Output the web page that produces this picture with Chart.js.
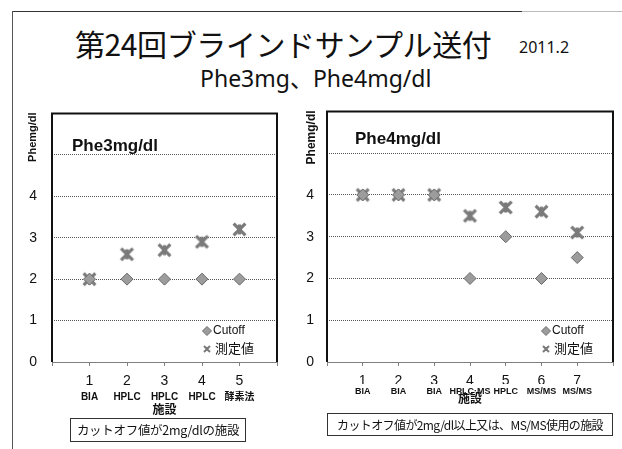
<!DOCTYPE html>
<html>
<head>
<meta charset="utf-8">
<script src="https://cdn.jsdelivr.net/npm/chart.js@4/dist/chart.umd.min.js"></script>
<style>
  html, body { margin: 0; padding: 0; background: #fff; }
  body { width: 622px; height: 449px; position: relative; overflow: hidden; color: #111;
         font-family: "Noto Sans", "Noto Sans CJK JP", sans-serif; }
  .abs { position: absolute; }
  #lineTop { left: 12px; top: 11px; width: 510px; border-top: 1px solid #333; }
  #lineTop2 { left: 522px; top: 11px; width: 100px; border-top: 1px solid #bbb; }
  #lineLeft { left: 12px; top: 11px; height: 438px; border-left: 1px solid #555; }
  #title { left: 75px; top: 28px; font-family: "Noto Sans CJK JP"; font-size: 30px; line-height: 1; white-space: nowrap; letter-spacing: -0.4px; }
  #date { left: 519px; top: 39px; font-size: 16px; line-height: 1; white-space: nowrap; }
  #sub { left: 200px; top: 67px; font-size: 23px; line-height: 1; white-space: nowrap; }
  .note { border: 1px solid #333; font-family: "Noto Sans CJK JP"; line-height: 22px;
          text-align: center; white-space: nowrap; box-sizing: border-box; overflow: hidden; }
  #note3 { left: 70px; top: 418px; width: 176px; height: 24px; font-size: 12.5px; letter-spacing: -0.3px; }
  #note4 { left: 327px; top: 413px; width: 286px; height: 23px; font-size: 12px; letter-spacing: -0.6px; line-height: 21px; }
  canvas { position: absolute; }
  #c3 { left: 0px; top: 90px; }
  #c4 { left: 295px; top: 90px; }
</style>
</head>
<body>
<div class="abs" id="lineTop"></div>
<div class="abs" id="lineTop2"></div>
<div class="abs" id="lineLeft"></div>
<div class="abs" id="title">第24回ブラインドサンプル送付</div>
<div class="abs" id="date">2011.2</div>
<div class="abs" id="sub">Phe3mg、Phe4mg/dl</div>
<canvas id="c3" width="300" height="330"></canvas>
<canvas id="c4" width="327" height="320"></canvas>
<div class="abs note" id="note3">カットオフ値が2mg/dlの施設</div>
<div class="abs note" id="note4">カットオフ値が2mg/dl以上又は、MS/MS使用の施設</div>

<script>
// Phe 3 mg/dl sample
const facilities3 = ['BIA', 'HPLC', 'HPLC', 'HPLC', '酵素法'];
const cutoff3 = [2, 2, 2, 2, 2];
const measured3 = [2.0, 2.6, 2.7, 2.9, 3.2];

// Phe 4 mg/dl sample
const facilities4 = ['BIA', 'BIA', 'BIA', 'HPLC·MS', 'HPLC', 'MS/MS', 'MS/MS'];
const cutoff4 = [4, 4, 4, 2, 3, 2, 2.5];
const measured4 = [4, 4, 4, 3.5, 3.7, 3.6, 3.1];

// y axis: gridlines every 1 up to 6, labels only on these values
const yLabelled = [0, 1, 2, 3, 4];
const yMax = 6;

const seriesNames = ['Cutoff', '測定値'];
const axisTitle = 'Phemg/dl';
const xTitle = '施設';

const SANS = '"Liberation Sans", "Noto Sans CJK JP", sans-serif';
const GRAY = '#808080';

// asterisk-like marker (X with a vertical bar)
function starMarker(size, lw) {
  const c = document.createElement('canvas');
  c.width = size; c.height = size;
  const g = c.getContext('2d');
  const m = lw / 2 + 1, e = size - m, mid = size / 2;
  g.strokeStyle = '#7a7a7a';
  g.lineWidth = lw;
  g.lineCap = 'butt';
  g.beginPath();
  g.moveTo(m, m); g.lineTo(e, e);
  g.moveTo(e, m); g.lineTo(m, e);
  g.moveTo(mid, m + 1); g.lineTo(mid, e - 1);
  g.stroke();
  return c;
}
const starBig = starMarker(17, 3.2);
const starSmall = starMarker(10, 2);

function diamond(ctx, x, y, r) {
  ctx.save();
  ctx.beginPath();
  ctx.moveTo(x, y - r); ctx.lineTo(x + r, y); ctx.lineTo(x, y + r); ctx.lineTo(x - r, y);
  ctx.closePath();
  ctx.fillStyle = '#9c9c9c'; ctx.fill();
  ctx.strokeStyle = '#6a6a6a'; ctx.lineWidth = 1; ctx.stroke();
  ctx.restore();
}

// plot frame, inner label, rotated axis title and legend
function decor(o) {
  return {
    id: 'decor',
    beforeDatasetsDraw(chart) {
      const { ctx, chartArea: a } = chart;
      ctx.save();
      ctx.strokeStyle = '#111';
      ctx.lineWidth = 2;
      ctx.beginPath();
      ctx.moveTo(a.left, a.bottom); ctx.lineTo(a.left, a.top);
      ctx.lineTo(a.right, a.top); ctx.lineTo(a.right, a.bottom);
      ctx.stroke();
      ctx.fillStyle = '#111';
      ctx.font = 'bold ' + o.labelSize + 'px ' + SANS;
      ctx.textBaseline = 'middle';
      ctx.textAlign = 'left';
      ctx.fillText(o.label, a.left + o.labelDx, a.top + o.labelDy);
      ctx.translate(o.axisX, a.top + o.axisDy);
      ctx.rotate(-Math.PI / 2);
      ctx.font = 'bold ' + o.axisSize + 'px ' + SANS;
      ctx.textAlign = 'right';
      ctx.textBaseline = 'middle';
      ctx.fillText(axisTitle, 0, 0);
      ctx.restore();
    },
    afterDatasetsDraw(chart) {
      const { ctx, chartArea: a } = chart;
      const mx = a.right - o.legendDx;
      const y1 = a.bottom - 31, y2 = a.bottom - 13;
      ctx.save();
      diamond(ctx, mx, y1, 4.5);
      ctx.drawImage(starSmall, mx - 5, y2 - 5);
      ctx.fillStyle = '#111';
      ctx.textBaseline = 'middle';
      ctx.textAlign = 'left';
      ctx.font = '12px ' + SANS;
      ctx.fillText(seriesNames[0], mx + 6, y1);
      ctx.font = '13px ' + SANS;
      ctx.fillText(seriesNames[1], mx + 8, y2);
      ctx.restore();
    }
  };
}

function makeChart(id, names, cutoff, measured, o) {
  const xMax = names.length + 1;
  const pts = arr => arr.map((v, i) => ({ x: i + 1, y: v }));
  return new Chart(document.getElementById(id), {
    type: 'scatter',
    data: {
      datasets: [
        { label: seriesNames[0], data: pts(cutoff), pointStyle: 'rectRot', pointRadius: 6,
          pointHoverRadius: 6, backgroundColor: '#9c9c9c', borderColor: '#6a6a6a', borderWidth: 1 },
        { label: seriesNames[1], data: pts(measured), pointStyle: starBig, pointRadius: 8,
          backgroundColor: GRAY, borderColor: GRAY }
      ]
    },
    options: {
      responsive: false,
      animation: false,
      events: [],
      layout: { padding: { left: 0, top: o.padTop, right: o.padRight, bottom: 0 } },
      plugins: { legend: { display: false }, tooltip: { enabled: false } },
      scales: {
        x: {
          type: 'linear', position: 'bottom', min: 0, max: xMax, weight: 0,
          afterFit: s => { s.height = o.xH; },
          ticks: { stepSize: 1, padding: o.numPad, color: '#111', font: { size: 14, family: SANS },
                   maxRotation: 0, autoSkip: false,
                   callback: v => (v >= 1 && v <= names.length) ? String(v) : '' },
          grid: { drawOnChartArea: false, drawTicks: true, tickLength: 4, color: GRAY },
          border: { color: GRAY, width: 1 }
        },
        x2: {
          type: 'linear', position: 'bottom', min: 0, max: xMax, weight: 1,
          afterFit: s => { s.height = o.x2H; },
          ticks: { stepSize: 1, padding: o.namePad, color: '#111', maxRotation: 0, autoSkip: false,
                   font: { size: o.nameSize, weight: 'bold', family: SANS },
                   callback: v => names[v - 1] || '' },
          grid: { display: false, drawTicks: false },
          border: { display: false },
          title: { display: true, text: xTitle, color: '#111',
                   font: { size: 12, weight: 'bold', family: SANS },
                   padding: { top: 0, bottom: o.titlePad } }
        },
        y: {
          type: 'linear', min: 0, max: yMax,
          afterFit: s => { s.width = o.yW; },
          ticks: { stepSize: 1, padding: o.yPad, color: '#111', font: { size: 14, family: SANS },
                   callback: v => yLabelled.includes(v) ? String(v) : '' },
          grid: { drawTicks: false, lineWidth: 1,
                  color: c => (c.tick.value > 0 && c.tick.value < yMax) ? '#555' : 'rgba(0,0,0,0)' },
          border: { display: false, dash: [1, 1] }
        }
      }
    },
    plugins: [decor(o)]
  });
}

const c3 = makeChart('c3', facilities3, cutoff3, measured3, {
  padTop: 21, padRight: 23, yW: 52, yPad: 15, xH: 26, x2H: 32, numPad: 7, namePad: 3, titlePad: 2,
  nameSize: 10, label: 'Phe3mg/dl', labelSize: 17, labelDx: 20, labelDy: 33,
  axisX: 33, axisDy: -1, axisSize: 11, legendDx: 70
});
const c4 = makeChart('c4', facilities4, cutoff4, measured4, {
  padTop: 19, padRight: 7, yW: 32, yPad: 13, xH: 22, x2H: 26, numPad: 7, namePad: 2, titlePad: 3,
  nameSize: 9, label: 'Phe4mg/dl', labelSize: 17, labelDx: 28, labelDy: 28,
  axisX: 17, axisDy: -1, axisSize: 12, legendDx: 67
});
</script>
</body>
</html>
